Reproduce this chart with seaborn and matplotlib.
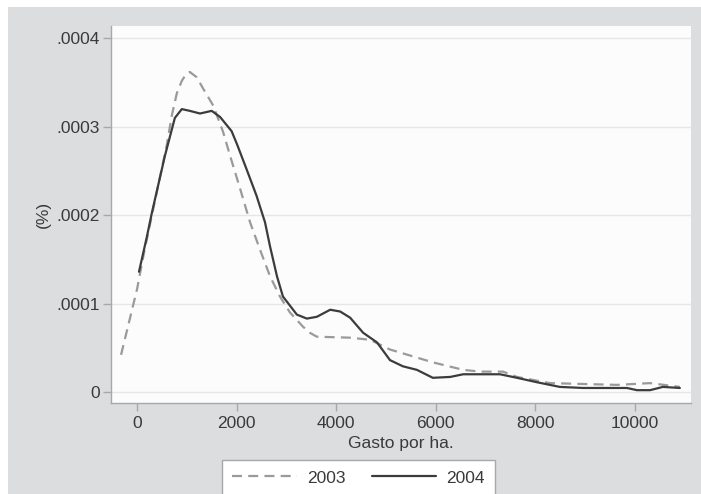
import numpy as np
import pandas as pd
import seaborn as sns
import matplotlib
matplotlib.use("Agg")
import matplotlib.pyplot as plt
from matplotlib.patches import Rectangle
from matplotlib.lines import Line2D

# Kernel density estimates of spending per hectare, by year
x_2003 = [-320, 0, 150, 300, 450, 600, 700, 800, 900, 980, 1060, 1200, 1330,
          1530, 1730, 1870, 2070, 2270, 2470, 2670, 2870, 3070, 3330, 3470,
          3610, 4280, 4680, 5080, 5940, 6550, 6890, 7350, 7630, 8290, 9640,
          10300, 10900]
y_2003 = [0.0000420, 0.0001160, 0.0001600, 0.0002000, 0.0002400, 0.0002800,
          0.0003130, 0.0003380, 0.0003520, 0.0003590, 0.0003620, 0.0003560,
          0.0003430, 0.0003240, 0.0002940, 0.0002670, 0.0002300, 0.0001920,
          0.0001610, 0.0001310, 0.0001080, 0.0000900, 0.0000740, 0.0000670,
          0.0000625, 0.0000614, 0.0000590, 0.0000480, 0.0000335, 0.0000250,
          0.0000230, 0.0000230, 0.0000170, 0.0000100, 0.0000080, 0.0000100,
          0.0000057]

x_2004 = [40, 200, 300, 560, 760, 900, 1060, 1265, 1500, 1670, 1900, 2010,
          2200, 2400, 2570, 2670, 2810, 2930, 3210, 3410, 3610, 3880, 4080,
          4280, 4540, 4820, 5080, 5340, 5620, 5940, 6290, 6550, 6890, 7290,
          7630, 8030, 8490, 8960, 9840, 10040, 10300, 10560, 10900]
y_2004 = [0.0001360, 0.0001760, 0.0002030, 0.0002670, 0.0003100, 0.0003200,
          0.0003180, 0.0003150, 0.0003180, 0.0003110, 0.0002950, 0.0002800,
          0.0002520, 0.0002220, 0.0001920, 0.0001650, 0.0001310, 0.0001080,
          0.0000875, 0.0000830, 0.0000850, 0.0000930, 0.0000910, 0.0000840,
          0.0000670, 0.0000560, 0.0000360, 0.0000290, 0.0000250, 0.0000160,
          0.0000170, 0.0000200, 0.0000200, 0.0000200, 0.0000160, 0.0000110,
          0.0000057, 0.0000045, 0.0000045, 0.0000020, 0.0000020, 0.0000057,
          0.0000045]

years = ["2003", "2004"]
x_ticks = [0, 2000, 4000, 6000, 8000, 10000]
y_ticks = [0, 0.0001, 0.0002, 0.0003, 0.0004]
y_tick_labels = ["0", ".0001", ".0002", ".0003", ".0004"]
x_title = "Gasto por ha."
y_title = "(%)"

df = pd.concat([
    pd.DataFrame({"x": x_2003, "y": y_2003, "year": years[0]}),
    pd.DataFrame({"x": x_2004, "y": y_2004, "year": years[1]}),
], ignore_index=True)

sns.set_theme(style="white")
plt.rcParams["font.family"] = ["Liberation Sans", "DejaVu Sans"]

FS = 12.5
W, H = 701, 494
fig = plt.figure(figsize=(W / 100, H / 100), dpi=100, facecolor="white")

# grey backdrop behind the plot region
fig.patches.append(Rectangle((8 / W, 0), 1 - 8 / W, 1 - 7 / H,
                             transform=fig.transFigure, facecolor="#dcdddf",
                             edgecolor="none", zorder=-10))

left, right, top, bottom = 111, 691, 26, 403
ax = fig.add_axes([left / W, 1 - bottom / H, (right - left) / W, (bottom - top) / H])
ax.set_facecolor("#fcfcfc")

palette = {"2003": "#9a9a9a", "2004": "#3c3c3c"}
dashes = {"2003": (4.5, 2.8), "2004": ""}
sns.lineplot(data=df, x="x", y="y", hue="year", style="year", palette=palette,
             dashes=dashes, sort=False, estimator=None, linewidth=1.6,
             ax=ax, legend=False)
for ln in ax.get_lines():
    ln.set_solid_joinstyle("round")
    ln.set_dash_joinstyle("round")

ax.set_xlim(-522, 11124)
ax.set_ylim(-0.0000125, 0.000414)
ax.set_xticks(x_ticks)
ax.set_xticklabels([str(v) for v in x_ticks])
ax.set_yticks(y_ticks)
ax.set_yticklabels(y_tick_labels)

ax.yaxis.grid(True, color="#e6e6e6", linewidth=1.0)
ax.xaxis.grid(False)
ax.set_axisbelow(True)

for s in ["top", "right"]:
    ax.spines[s].set_visible(False)
for s in ["left", "bottom"]:
    ax.spines[s].set_color("#a8a8a8")
    ax.spines[s].set_linewidth(1.0)

ax.tick_params(axis="both", which="major", direction="out", length=6,
               width=1.0, color="#a8a8a8", labelsize=FS,
               labelcolor="#3a3a3a", bottom=True, left=True)
ax.tick_params(axis="x", pad=3)
ax.tick_params(axis="y", pad=2)

ax.set_xlabel(x_title, fontsize=FS, color="#3a3a3a", labelpad=4)
ax.set_ylabel(y_title, fontsize=FS, color="#3a3a3a", labelpad=4)

handles = [Line2D([], [], color=palette["2003"], linewidth=1.6, dashes=(4.5, 2.8)),
           Line2D([], [], color=palette["2004"], linewidth=1.6)]
leg = fig.legend(handles, years, loc="upper left",
                 bbox_to_anchor=(222 / W, 1 - 460 / H), borderaxespad=0,
                 ncol=2, fontsize=FS, frameon=True, fancybox=False,
                 handlelength=3.7, handletextpad=0.6, columnspacing=1.5,
                 borderpad=0.6)
leg.get_frame().set_edgecolor("#a8a8a8")
leg.get_frame().set_facecolor("white")
leg.get_frame().set_linewidth(1.0)
leg.get_frame().set_alpha(1)
for t in leg.get_texts():
    t.set_color("#3a3a3a")

fig.savefig("out.png", dpi=100, facecolor=fig.get_facecolor())
